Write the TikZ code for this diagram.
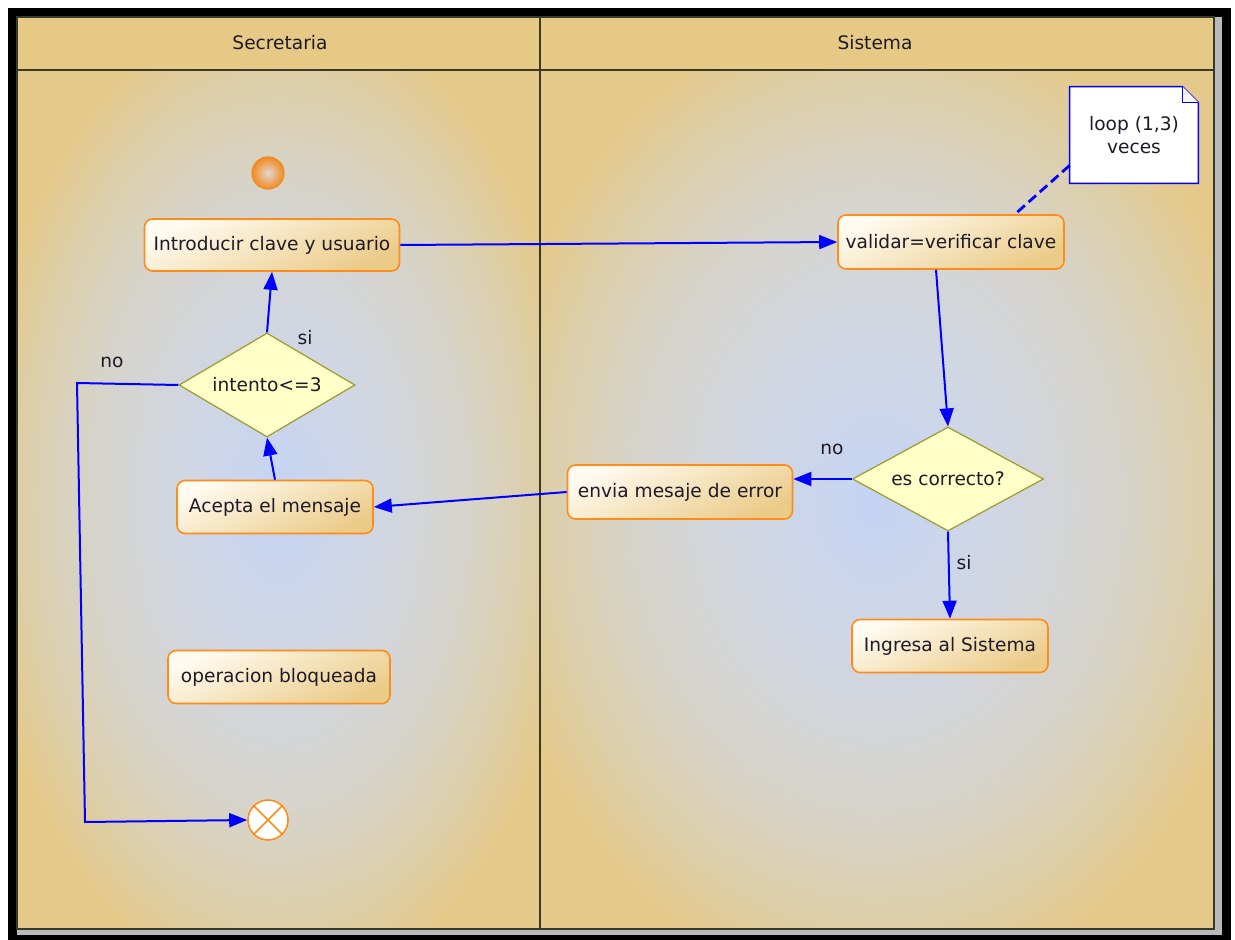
\documentclass[tikz,border=0pt]{standalone}
\usepackage{fontspec}
\setmainfont{DejaVu Sans}
\usetikzlibrary{shapes.geometric,arrows.meta,calc}
\definecolor{hdr}{HTML}{E7C986}
\definecolor{lanetan}{HTML}{E5C98A}
\definecolor{lanemid}{HTML}{DCCFAC}
\definecolor{lanegray}{HTML}{D6D4CB}
\definecolor{lanebl2}{HTML}{CFD6E6}
\definecolor{laneblue}{HTML}{C4D4F4}
\definecolor{boxtan}{HTML}{EBCB88}
\definecolor{boxmid}{HTML}{F6E4BE}
\definecolor{boxtop}{HTML}{FFFBF0}
\definecolor{boxedge}{HTML}{FF8C1A}
\definecolor{diafill}{HTML}{FFFFC8}
\definecolor{diaedge}{HTML}{9B9B2E}
\definecolor{txt}{HTML}{1E1A28}
\definecolor{frameline}{HTML}{3A3A2A}
\definecolor{initor}{HTML}{F28A22}
\definecolor{arrowblue}{HTML}{0000FF}
\pgfdeclareradialshading{lanesh}{\pgfpoint{0bp}{0bp}}{color(0bp)=(laneblue); color(8bp)=(lanebl2); color(18bp)=(lanegray); color(24bp)=(lanemid); color(29bp)=(lanetan); color(50bp)=(lanetan)}
\begin{document}
\begin{tikzpicture}[x=0.5pt,y=-0.5pt,
  font=\fontsize{9.3}{11.5}\selectfont, text=txt,
  actbox/.style={rectangle, rounded corners=4pt, draw=boxedge, line width=0.8pt,
    top color=boxtop, middle color=boxmid, bottom color=boxtan, shading angle=25, inner sep=2pt},
  decbox/.style={diamond, draw=diaedge, fill=diafill, line width=0.6pt, inner sep=1pt, shape aspect=1.7},
  conn/.style={draw=arrowblue, line width=1pt, -{Triangle[length=9pt,width=7pt]}},
  lbl/.style={inner sep=1pt}
]
\useasboundingbox (0,0) rectangle (1235,940);
\fill[white] (0,0) rectangle (1235,940);
\fill[black] (8,8) rectangle (1231,940);
\fill[gray!55] (17,17) rectangle (1222,935);
\fill[hdr] (17,17) rectangle (1214,70);
\shade[shading=lanesh] (17,70) rectangle (540,929);
\shade[shading=lanesh] (540,70) rectangle (1214,929);
\draw[frameline, line width=0.8pt] (17,17) rectangle (1214,929);
\draw[frameline, line width=0.8pt] (17,70) -- (1214,70);
\draw[frameline, line width=0.8pt] (540,17) -- (540,929);

\node[lbl] (hsec) at (280,43) {Secretaria};
\node[lbl] (hsis) at (875,43) {Sistema};

% nodes
\node[circle, minimum size=16pt, inner sep=0pt, draw=initor, line width=0.6pt,
  inner color=orange!20!gray!30!white, outer color=initor] (start) at (268,173) {};
\node[actbox, minimum width=127.5pt, minimum height=26pt] (intro) at (272,245) {Introducir clave y usuario};
\node[actbox, minimum width=113pt, minimum height=27pt] (validar) at (951,242) {validar=verificar clave};
\node[decbox, minimum width=88pt, minimum height=52pt] (intento) at (267,385) {intento<=3};
\node[actbox, minimum width=98pt, minimum height=26.5pt] (acepta) at (275,507) {Acepta el mensaje};
\node[actbox, minimum width=112.5pt, minimum height=27pt] (envia) at (680,492) {envia mesaje de error};
\node[decbox, minimum width=95.5pt, minimum height=52pt] (correcto) at (948,479) {es correcto?};
\node[actbox, minimum width=98pt, minimum height=26.5pt] (ingresa) at (950,646) {Ingresa al Sistema};
\node[actbox, minimum width=111pt, minimum height=26.5pt] (bloq) at (279,677) {operacion bloqueada};
\node[circle, minimum size=20pt, inner sep=0pt, draw=boxedge, line width=0.8pt, fill=white] (final) at (268,820) {};
\draw[boxedge, line width=0.8pt] (final.north west) -- (final.south east);
\draw[boxedge, line width=0.8pt] (final.north east) -- (final.south west);

% note
\node[minimum width=64pt, minimum height=48pt, inner sep=0pt] (note) at (1134,135) {};
\draw[arrowblue, line width=0.8pt, fill=white]
  (note.north west) -- ($(note.north east)+(-16,0)$) -- ($(note.north east)+(0,16)$) -- (note.south east) -- (note.south west) -- cycle;
\draw[arrowblue, line width=0.6pt, fill=gray!8]
  ($(note.north east)+(-16,0)$) -- ($(note.north east)+(-16,16)$) -- ($(note.north east)+(0,16)$);
\node[align=center] (notetext) at (note) {loop (1,3)\\veces};
\coordinate (noteend) at ($(note.south west)+(0,-18)$);
\coordinate (valtop) at ($(validar.north)+(64,0)$);
\draw[arrowblue, line width=1.4pt, dash pattern=on 5pt off 2.5pt] (noteend) -- (valtop);

% connectors
\draw[conn] (intro.east) -- (validar.west);
\draw[conn] ($(validar.south)+(-15,0)$) -- (correcto.north);
\draw[conn] (correcto.west) -- (correcto.west -| envia.east);
\draw[conn] (envia.west) -- (acepta.east);
\draw[conn] (acepta.north) -- (intento.south);
\draw[conn] (intento.north) -- (intro.south);
\draw[conn] (correcto.south) -- (ingresa.north);
\coordinate (c1) at (77,383);
\coordinate (c2) at (85,822);
\draw[conn] (intento.west) -- (c1) -- (c2) -- (final.west);

% labels
\node[lbl] (lsi1) at (305,338) {si};
\node[lbl] (lno1) at (112,362) {no};
\node[lbl] (lno2) at (832,449) {no};
\node[lbl] (lsi2) at (964,563) {si};
\end{tikzpicture}
\end{document}
